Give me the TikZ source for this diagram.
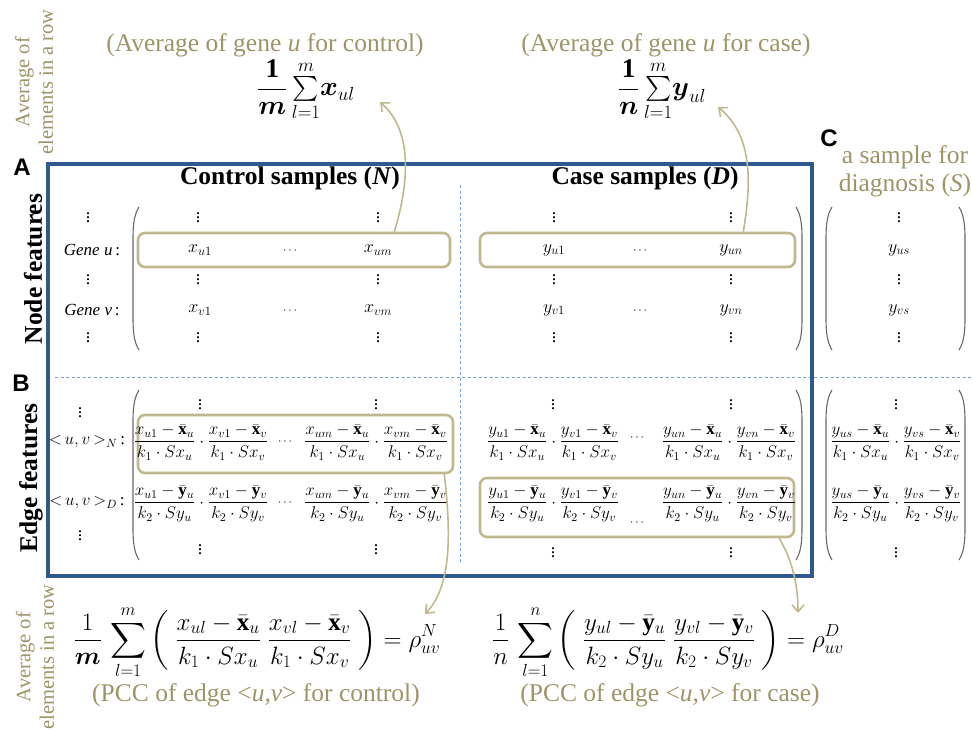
\RequirePackage{fix-cm}
\documentclass[tikz,border=0pt]{standalone}
\usepackage{amsmath}
\usepackage{fontspec}
\setmainfont{Liberation Serif}
\newfontfamily\labelsans{Liberation Sans}
\usetikzlibrary{arrows.meta,calc}

\definecolor{goldtext}{RGB}{158,148,104}
\definecolor{goldline}{RGB}{192,184,142}
\definecolor{frameblue}{RGB}{46,88,142}
\definecolor{dashblue}{RGB}{120,160,212}
\definecolor{parengray}{RGB}{105,105,105}

% bars over bold x and y
\newcommand\xbar{\bar{\mathbf{x}}}
\newcommand\ybar{\bar{\mathbf{y}}}
% edge pair label
\newcommand\uvpair[1]{${<}\,u,v\,{>}_{#1}$\,:}
% tall parentheses: x, top, bottom
\newcommand\leftbow[3]{\draw[parenln] ({#1+6},#2) .. controls ({#1+1},{#2+8}) and (#1,{#2+18}) .. (#1,{#2+32}) -- (#1,{#3-32}) .. controls (#1,{#3-18}) and ({#1+1},{#3-8}) .. ({#1+6},#3);}
\newcommand\rightbow[3]{\draw[parenln] ({#1-6},#2) .. controls ({#1-1},{#2+8}) and (#1,{#2+18}) .. (#1,{#2+32}) -- (#1,{#3-32}) .. controls (#1,{#3-18}) and ({#1-1},{#3-8}) .. ({#1-6},#3);}

\begin{document}
\begin{tikzpicture}[x=1pt,y=-1pt,
  goldlbl/.style={text=goldtext, font=\fontsize{25.5}{28}\selectfont, inner sep=0pt},
  sidelbl/.style={text=goldtext, font=\fontsize{20.5}{23.5}\selectfont, rotate=90, align=center, inner sep=0pt},
  colhead/.style={font=\fontsize{25.5}{28}\selectfont\bfseries, inner sep=0pt},
  panelletter/.style={font=\fontsize{24}{28}\selectfont\labelsans\bfseries, inner sep=0pt},
  ent/.style={font=\fontsize{18}{20}\selectfont, inner sep=0pt},
  eent/.style={font=\fontsize{17}{20}\selectfont, inner sep=0pt, anchor=base},
  dotsn/.style={font=\fontsize{12}{14}\selectfont, inner sep=0pt},
  rowlbl/.style={font=\fontsize{17}{20}\selectfont, inner sep=0pt},
  hlbox/.style={draw=goldline, line width=2.6pt, rounded corners=7pt, inner sep=0pt},
  gdarrow/.style={draw=goldline, line width=1.6pt, -{Straight Barb[length=7pt,width=12pt]}},
  parenln/.style={draw=parengray, line width=1.1pt},
  dashsep/.style={draw=dashblue, line width=0.9pt, dash pattern=on 3pt off 2.5pt},
  bluefr/.style={draw=frameblue, line width=4.2pt},
  topformula/.style={font=\fontsize{27}{30}\selectfont, inner sep=0pt, anchor=base},
  formula/.style={font=\fontsize{25}{28}\selectfont, inner sep=0pt, anchor=base},
]
\useasboundingbox (0,0) rectangle (972,733);

% separators and frame
\draw[dashsep] (55,377) -- (972,377);
\draw[dashsep] (460,185) -- (460,562);
\draw[bluefr] (48,164) rectangle (812,576);

% panel letters
\node[panelletter] (pA) at (22,167) {A};
\node[panelletter] (pB) at (21,383) {B};
\node[panelletter] (pC) at (829,138) {C};

% headings
\node[colhead] (hN) at (290,178) {Control samples (\textit{N})};
\node[colhead] (hD) at (645,178) {Case samples (\textit{D})};
\node[colhead, rotate=90] (nf) at (33,269) {Node features};
\node[colhead, rotate=90] (ef) at (31,478) {Edge features};

% side notes
\node[sidelbl] (avgT) at (34,82) {Average of\\elements in a row};
\node[sidelbl] (avgB) at (35,657) {Average of\\elements in a row};

% averages of gene u
\node[goldlbl] (tlN) at (265,45) {(Average of gene \textit{u} for control)};
\node[goldlbl] (tlD) at (666,45) {(Average of gene \textit{u} for case)};
\node[topformula] (fmN) at (306,96) {$\dfrac{\mathbf{1}}{\boldsymbol{m}}\,{\textstyle\sum\limits_{l=1}^{m}}\boldsymbol{x}_{ul}$};
\node[topformula] (fmD) at (662,96) {$\dfrac{\mathbf{1}}{\boldsymbol{n}}\,{\textstyle\sum\limits_{l=1}^{m}}\boldsymbol{y}_{ul}$};

% diagnosis sample
\node[goldlbl, align=center] (cS) at (905,171) {a sample for\\diagnosis (\textit{S})};

% highlight boxes
\node[hlbox, minimum width=312pt, minimum height=34pt] (bxN) at (294,250) {};
\node[hlbox, minimum width=315pt, minimum height=34pt] (bxD) at (637.5,250) {};
\node[hlbox, minimum width=315pt, minimum height=58pt] (bxEN) at (295.5,444) {};
\node[hlbox, minimum width=314pt, minimum height=59pt] (bxED) at (637,507.5) {};

% node feature parentheses
\leftbow{133}{207}{350}
\rightbow{802}{207}{350}
\leftbow{826}{207}{350}
\rightbow{965}{207}{350}
% edge feature parentheses
\leftbow{133}{390}{560}
\rightbow{802}{390}{560}
\leftbow{826}{390}{560}
\rightbow{965}{390}{560}

% node feature row labels
\node[ent] (lv1) at (88,215) {$\vdots$};
\node[rowlbl] (gu) at (92,250) {\textit{Gene u}\,:};
\node[ent] (lv2) at (88,277) {$\vdots$};
\node[rowlbl] (gv) at (92,310) {\textit{Gene v}\,:};
\node[ent] (lv3) at (88,335) {$\vdots$};

% control node features
\node[ent] (cv1) at (198,215) {$\vdots$};
\node[ent] (cv2) at (378,215) {$\vdots$};
\node[ent] (xu1) at (200,250) {$x_{u1}$};
\node[dotsn] (cd1) at (291,251) {$\cdots$};
\node[ent] (xum) at (378,250) {$x_{um}$};
\node[ent] (cv3) at (198,277) {$\vdots$};
\node[ent] (cv4) at (378,277) {$\vdots$};
\node[ent] (xv1) at (200,310) {$x_{v1}$};
\node[dotsn] (cd2) at (291,311) {$\cdots$};
\node[ent] (xvm) at (378,310) {$x_{vm}$};
\node[ent] (cv5) at (198,335) {$\vdots$};
\node[ent] (cv6) at (378,335) {$\vdots$};

% case node features
\node[ent] (dv1) at (554,215) {$\vdots$};
\node[ent] (dv2) at (731,215) {$\vdots$};
\node[ent] (yu1) at (554,250) {$y_{u1}$};
\node[dotsn] (dd1) at (641,251) {$\cdots$};
\node[ent] (yun) at (731,250) {$y_{un}$};
\node[ent] (dv3) at (554,277) {$\vdots$};
\node[ent] (dv4) at (731,277) {$\vdots$};
\node[ent] (yv1) at (554,310) {$y_{v1}$};
\node[dotsn] (dd2) at (641,311) {$\cdots$};
\node[ent] (yvn) at (731,310) {$y_{vn}$};
\node[ent] (dv5) at (554,335) {$\vdots$};
\node[ent] (dv6) at (731,335) {$\vdots$};

% diagnosis sample node features
\node[ent] (sv1) at (899,215) {$\vdots$};
\node[ent] (yus) at (899,250) {$y_{us}$};
\node[ent] (sv2) at (899,277) {$\vdots$};
\node[ent] (yvs) at (899,310) {$y_{vs}$};
\node[ent] (sv3) at (899,335) {$\vdots$};

% edge feature row labels
\node[ent] (le1) at (80,410) {$\vdots$};
\node[rowlbl] (eN) at (87,442) {\uvpair{N}};
\node[rowlbl] (eD) at (87,503) {\uvpair{D}};
\node[ent] (le2) at (80,533) {$\vdots$};

% control edge features
\node[ent] (ce1) at (200,402) {$\vdots$};
\node[ent] (ce2) at (376,402) {$\vdots$};
\node[eent] (cN1) at (201,446) {$\dfrac{x_{u1}-\xbar_u}{k_1\cdot Sx_u}\cdot\dfrac{x_{v1}-\xbar_v}{k_1\cdot Sx_v}$};
\node[dotsn] (ced1) at (286,442) {$\cdots$};
\node[eent] (cN2) at (376,446) {$\dfrac{x_{um}-\xbar_u}{k_1\cdot Sx_u}\cdot\dfrac{x_{vm}-\xbar_v}{k_1\cdot Sx_v}$};
\node[eent] (cD1) at (201,507) {$\dfrac{x_{u1}-\ybar_u}{k_2\cdot Sy_u}\cdot\dfrac{x_{v1}-\ybar_v}{k_2\cdot Sy_v}$};
\node[dotsn] (ced2) at (286,503) {$\cdots$};
\node[eent] (cD2) at (376,507) {$\dfrac{x_{um}-\ybar_u}{k_2\cdot Sy_u}\cdot\dfrac{x_{vm}-\ybar_v}{k_2\cdot Sy_v}$};
\node[ent] (ce3) at (200,547) {$\vdots$};
\node[ent] (ce4) at (376,547) {$\vdots$};

% case edge features
\node[ent] (de1) at (553,402) {$\vdots$};
\node[ent] (de2) at (731,402) {$\vdots$};
\node[eent] (dN1) at (553,446) {$\dfrac{y_{u1}-\xbar_u}{k_1\cdot Sx_u}\cdot\dfrac{y_{v1}-\xbar_v}{k_1\cdot Sx_v}$};
\node[dotsn] (ded1) at (638,438) {$\cdots$};
\node[eent] (dN2) at (729,446) {$\dfrac{y_{un}-\xbar_u}{k_1\cdot Sx_u}\cdot\dfrac{y_{vn}-\xbar_v}{k_1\cdot Sx_v}$};
\node[eent] (dD1) at (553,507) {$\dfrac{y_{u1}-\ybar_u}{k_2\cdot Sy_u}\cdot\dfrac{y_{v1}-\ybar_v}{k_2\cdot Sy_v}$};
\node[dotsn] (ded2) at (638,523) {$\cdots$};
\node[eent] (dD2) at (729,507) {$\dfrac{y_{un}-\ybar_u}{k_2\cdot Sy_u}\cdot\dfrac{y_{vn}-\ybar_v}{k_2\cdot Sy_v}$};
\node[ent] (de3) at (553,550) {$\vdots$};
\node[ent] (de4) at (731,550) {$\vdots$};

% diagnosis sample edge features
\node[ent] (se1) at (896,402) {$\vdots$};
\node[eent] (sN) at (896,446) {$\dfrac{y_{us}-\xbar_u}{k_1\cdot Sx_u}\cdot\dfrac{y_{vs}-\xbar_v}{k_1\cdot Sx_v}$};
\node[eent] (sD) at (896,507) {$\dfrac{y_{us}-\ybar_u}{k_2\cdot Sy_u}\cdot\dfrac{y_{vs}-\ybar_v}{k_2\cdot Sy_v}$};
\node[ent] (se2) at (896,550) {$\vdots$};

% edge correlations
\node[formula] (pN) at (257,647) {$\displaystyle\frac{1}{\boldsymbol{m}}\,\sum_{l=1}^{m}\left(\;\frac{x_{ul}-\xbar_u}{k_1\cdot Sx_u}\;\frac{x_{vl}-\xbar_v}{k_1\cdot Sx_v}\;\right)=\rho^{N}_{uv}$};
\node[formula] (pD) at (668,647) {$\displaystyle\frac{1}{n}\,\sum_{l=1}^{n}\left(\;\frac{y_{ul}-\ybar_u}{k_2\cdot Sy_u}\;\frac{y_{vl}-\ybar_v}{k_2\cdot Sy_v}\;\right)=\rho^{D}_{uv}$};
\node[goldlbl] (ccN) at (256,695) {(PCC of edge <\textit{u,v}> for control)};
\node[goldlbl] (ccD) at (670,695) {(PCC of edge <\textit{u,v}> for case)};

% connectors
\coordinate (tipN) at (380,102);
\coordinate (tipD) at (718,107);
\coordinate (tipEN) at (425,614);
\coordinate (tipED) at (798,613);
\draw[gdarrow] ($(bxN.north east)+(-57,0)$) .. controls (410,180) and (412,130) .. (tipN);
\draw[gdarrow] ($(bxD.north east)+(-53,0)$) .. controls (752,180) and (752,135) .. (tipD);
\draw[gdarrow] ($(bxEN.south east)+(-10,0)$) .. controls (452,540) and (450,588) .. (tipEN);
\draw[gdarrow] ($(bxED.south east)+(-16,0)$) .. controls (792,560) and (798,584) .. (tipED);
\end{tikzpicture}
\end{document}
